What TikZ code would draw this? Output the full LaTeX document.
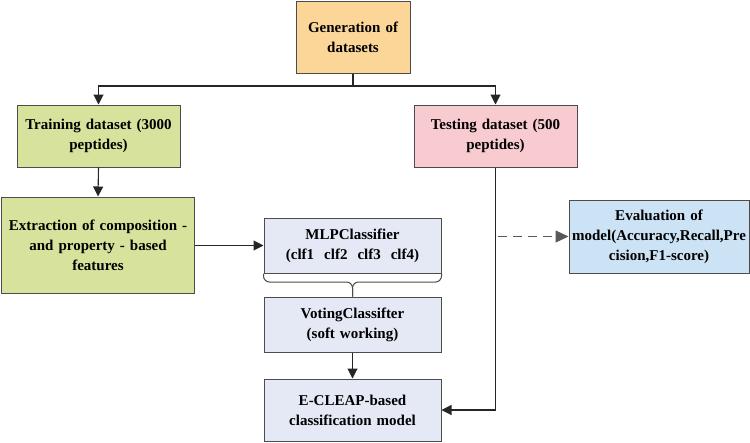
\documentclass[tikz,border=0pt]{standalone}
\usepackage{fontspec}
\setmainfont{Liberation Serif}
\usepackage{tikz}
\usepackage{xcolor}
\usetikzlibrary{arrows.meta}
\definecolor{orangeB}{HTML}{FBD698}
\definecolor{greenB}{HTML}{D7E29C}
\definecolor{pinkB}{HTML}{F7CBD0}
\definecolor{lilacB}{HTML}{E4E9F5}
\definecolor{blueB}{HTML}{CCE3F6}
\tikzset{
Boite/.style={
 draw=black!70,
 line width=1pt,
 align=center,
 inner sep=2pt,
 text width=#1-4pt,
 font=\fontsize{15}{20}\selectfont\bfseries
 },
OrangeBox/.style={Boite=#1, fill=orangeB},
GreenBox/.style={Boite=#1, fill=greenB},
PinkBox/.style={Boite=#1, fill=pinkB},
LilacBox/.style={Boite=#1, fill=lilacB},
BlueBox/.style={Boite=#1, fill=blueB},
Fleche/.style={
 draw=black!85,
 line width=1.1pt,
 -{Triangle[length=10pt,width=10pt]}
 },
DashFleche/.style={
 draw=black!65,
 line width=1.1pt,
 dash pattern=on 9pt off 6pt,
 -{Triangle[length=13pt,width=12pt]}
 }
}

\begin{document}
\begin{tikzpicture}[x=1pt,y=-1pt]
\useasboundingbox (0,0) rectangle (750,442);
\node[OrangeBox=114pt, minimum height=72pt] (gen) at (353,37) {Generation of\\datasets};
\node[GreenBox=163pt, minimum height=62pt] (train) at (98.5,136) {Training dataset (3000\\peptides)};
\node[PinkBox=163pt, minimum height=62pt] (test) at (495.5,136) {Testing dataset (500\\peptides)};
\node[GreenBox=193pt, minimum height=96pt] (extr) at (98,245) {Extraction of composition -\\and property - based\\features};
\node[LilacBox=177pt, minimum height=55pt] (mlp) at (352.5,245.5) {MLPClassifier\\(clf1\ \ clf2\ \ clf3\ \ clf4)};
\node[LilacBox=177pt, minimum height=55pt] (vote) at (352.5,324.5) {VotingClassifter\\(soft working)};
\node[LilacBox=177pt, minimum height=62pt] (ecleap) at (352.5,410) {E-CLEAP-based\\classification model};
\node[BlueBox=180pt, minimum height=73pt] (eval) at (659,236.5) {Evaluation of\\model(Accuracy,Recall,Pre\\cision,F1-score)};
% liaisons
\coordinate (split) at (353,86);
\coordinate (bt) at (352.5,282);
\coordinate (dstart) at (498,236.5);
\draw[Fleche, -] (gen.south) -- (split);
\draw[Fleche] (split) -| (train.north);
\draw[Fleche] (split) -| (test.north);
\draw[Fleche] (train.south) -- (extr.north);
\draw[Fleche] (extr.east |- mlp.west) -- (mlp.west);
\draw[draw=black!70, line width=1pt, rounded corners=6pt] (mlp.south west) |- (bt) -- (vote.north);
\draw[draw=black!70, line width=1pt, rounded corners=6pt] (mlp.south east) |- (bt) -- (vote.north);
\draw[Fleche] (vote.south) -- (ecleap.north);
\draw[Fleche] (test.south) |- (ecleap.east);
\draw[DashFleche] (dstart) -- (eval.west);
\end{tikzpicture}
\end{document}
